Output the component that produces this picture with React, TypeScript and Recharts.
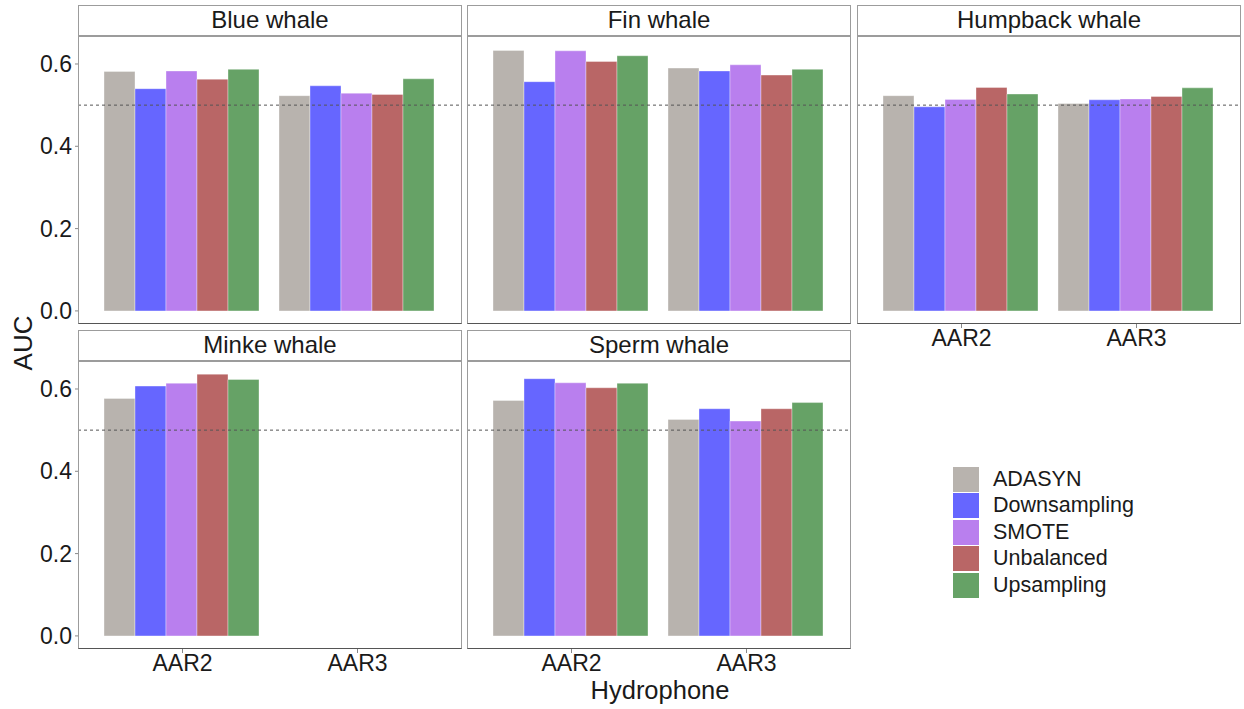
import React from "react";
import { Bar, BarChart, ReferenceLine, XAxis, YAxis } from "recharts";

const hydrophones = ["AAR2", "AAR3"];
const methods = ["ADASYN", "Downsampling", "SMOTE", "Unbalanced", "Upsampling"];
const methodColors = ["#b8b3ae", "#6666ff", "#b97fee", "#b96666", "#66a266"];

// AUC per method (ADASYN, Downsampling, SMOTE, Unbalanced, Upsampling)
const blueAAR2 = [0.582, 0.54, 0.583, 0.563, 0.587];
const blueAAR3 = [0.523, 0.547, 0.529, 0.526, 0.564];
const finAAR2 = [0.633, 0.557, 0.632, 0.606, 0.62];
const finAAR3 = [0.59, 0.583, 0.598, 0.573, 0.587];
const humpbackAAR2 = [0.523, 0.496, 0.514, 0.543, 0.527];
const humpbackAAR3 = [0.504, 0.513, 0.515, 0.521, 0.542];
const minkeAAR2 = [0.577, 0.607, 0.614, 0.636, 0.623];
const minkeAAR3: (number | null)[] = [null, null, null, null, null];
const spermAAR2 = [0.572, 0.625, 0.615, 0.603, 0.614];
const spermAAR3 = [0.526, 0.552, 0.522, 0.552, 0.567];

const yTicks = [0, 0.2, 0.4, 0.6];
const chance = 0.5;

const FONT = "'Liberation Sans', Arial, Helvetica, sans-serif";
const PANEL_W = 384;
const PLOT_H = 288;
const STRIP_H = 31;
const Y_AXIS_W = 70;
const X_AXIS_H = 36;
const COL_X = [78, 467, 857];
const ROW_Y = [5, 330];

function rows(aar2: (number | null)[], aar3: (number | null)[]) {
  return hydrophones.map((h, i) => {
    const vals = i === 0 ? aar2 : aar3;
    const row: Record<string, string | number | null> = { hydrophone: h };
    methods.forEach((m, j) => (row[m] = vals[j]));
    return row;
  });
}

const panels = [
  { title: "Blue whale", col: 0, row: 0, data: rows(blueAAR2, blueAAR3), xAxis: false },
  { title: "Fin whale", col: 1, row: 0, data: rows(finAAR2, finAAR3), xAxis: false },
  { title: "Humpback whale", col: 2, row: 0, data: rows(humpbackAAR2, humpbackAAR3), xAxis: true },
  { title: "Minke whale", col: 0, row: 1, data: rows(minkeAAR2, minkeAAR3), xAxis: true },
  { title: "Sperm whale", col: 1, row: 1, data: rows(spermAAR2, spermAAR3), xAxis: true },
];

const tickStyle = { fontSize: 23, fill: "#1a1a1a", fontFamily: FONT };

function Panel({ title, col, row, data, xAxis }: (typeof panels)[number]) {
  const left = COL_X[col];
  const stripTop = ROW_Y[row];
  const plotTop = stripTop + STRIP_H;
  const yAxis = col === 0;
  const chartLeft = left - (yAxis ? Y_AXIS_W : 0);
  const chartW = PANEL_W + (yAxis ? Y_AXIS_W : 0);
  const chartH = PLOT_H + (xAxis ? X_AXIS_H : 0);

  return (
    <>
      <div
        style={{
          position: "absolute",
          left,
          top: stripTop,
          width: PANEL_W,
          height: STRIP_H,
          boxSizing: "border-box",
          border: "1.5px solid #9c9c9c",
          background: "#fff",
          fontSize: 24,
          fontFamily: FONT,
          color: "#1a1a1a",
          textAlign: "center",
          lineHeight: `${STRIP_H - 3}px`,
        }}
      >
        {title}
      </div>
      <div style={{ position: "absolute", left: chartLeft, top: plotTop }}>
        <BarChart
          width={chartW}
          height={chartH}
          data={data}
          margin={{ top: 0, right: 0, bottom: 0, left: 0 }}
          barCategoryGap={9}
          barGap={0}
        >
          <XAxis
            dataKey="hydrophone"
            hide={!xAxis}
            height={X_AXIS_H}
            padding={{ left: 17, right: 17 }}
            axisLine={false}
            tickLine={{ stroke: "#888" }}
            tickSize={4}
            tickMargin={2}
            tick={tickStyle}
          />
          <YAxis
            hide={!yAxis}
            width={Y_AXIS_W}
            type="number"
            domain={[-0.0318, 0.668]}
            allowDataOverflow
            ticks={yTicks}
            tickFormatter={(v: number) => v.toFixed(1)}
            axisLine={false}
            tickLine={{ stroke: "#888" }}
            tickSize={3}
            tickMargin={3}
            tick={tickStyle}
          />
          {methods.map((m, i) => (
            <Bar
              key={m}
              dataKey={m}
              fill={methodColors[i]}
              stroke="#ffffff"
              strokeOpacity={0.35}
              strokeWidth={1}
              isAnimationActive={false}
            />
          ))}
          <ReferenceLine y={chance} stroke="#555" strokeDasharray="3 3" strokeWidth={1} />
        </BarChart>
      </div>
      <div
        style={{
          position: "absolute",
          left,
          top: plotTop,
          width: PANEL_W,
          height: PLOT_H,
          boxSizing: "border-box",
          border: "1.5px solid #9c9c9c",
          borderBottom: "1.5px solid #555",
          pointerEvents: "none",
        }}
      />
    </>
  );
}

export default function App() {
  return (
    <div
      style={{
        position: "absolute",
        left: 0,
        top: 0,
        width: 1244,
        height: 709,
        background: "#fff",
        fontFamily: FONT,
        color: "#1a1a1a",
      }}
    >
      {panels.map((p) => (
        <Panel key={p.title} {...p} />
      ))}

      <div
        style={{
          position: "absolute",
          left: 23,
          top: 343,
          transform: "translate(-50%, -50%) rotate(-90deg)",
          fontSize: 26,
          whiteSpace: "nowrap",
        }}
      >
        AUC
      </div>
      <div
        style={{
          position: "absolute",
          left: 660,
          top: 690,
          transform: "translate(-50%, -50%)",
          fontSize: 25.5,
          whiteSpace: "nowrap",
        }}
      >
        Hydrophone
      </div>

      {methods.map((m, i) => (
        <div
          key={m}
          style={{ position: "absolute", left: 953, top: 466 + i * 26.6, height: 26, display: "flex", alignItems: "center" }}
        >
          <div style={{ width: 26, height: 25, background: methodColors[i] }} />
          <div style={{ marginLeft: 14, fontSize: 21.5, whiteSpace: "nowrap" }}>{m}</div>
        </div>
      ))}
    </div>
  );
}
